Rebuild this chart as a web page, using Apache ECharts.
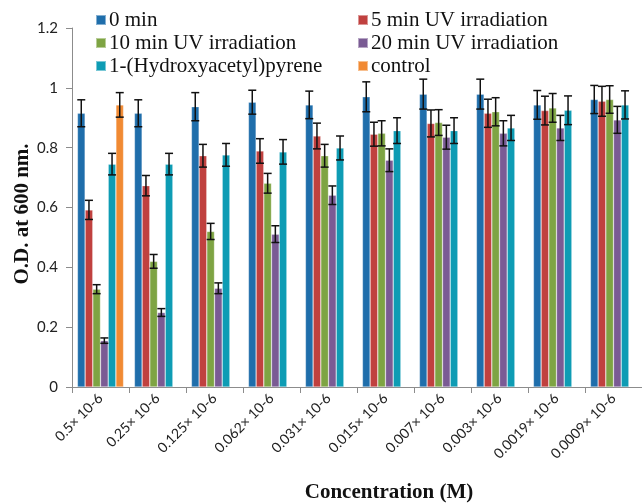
<!DOCTYPE html>
<html><head><meta charset="utf-8">
<script src="https://cdn.jsdelivr.net/npm/echarts@6/dist/echarts.min.js"></script>
<style>html,body{margin:0;padding:0;background:#fff}#c{width:642px;height:504px}</style>
</head><body><div id="c"></div>
<script>
var categories = ['0.5× 10-6','0.25× 10-6','0.125× 10-6','0.062× 10-6','0.031× 10-6','0.015× 10-6','0.007× 10-6','0.003× 10-6','0.0019× 10-6','0.0009× 10-6'];
var seriesNames = ['0 min','5 min UV irradiation','10 min UV irradiation','20 min UV irradiation','1-(Hydroxyacetyl)pyrene','control'];
var yTicks = [0,0.2,0.4,0.6,0.8,1,1.2];
var v0   = [0.915,0.915,0.937,0.952,0.943,0.970,0.979,0.979,0.943,0.961];
var v5   = [0.592,0.673,0.773,0.789,0.839,0.845,0.881,0.915,0.924,0.955];
var v10  = [0.327,0.420,0.520,0.681,0.773,0.848,0.884,0.920,0.933,0.961];
var v20  = [0.155,0.249,0.330,0.511,0.641,0.758,0.835,0.848,0.866,0.893];
var vHyd = [0.745,0.745,0.776,0.786,0.799,0.857,0.857,0.866,0.925,0.943];
var vCtl = [0.943,null,null,null,null,null,null,null,null,null];
var e0   = [0.045,0.045,0.047,0.040,0.046,0.050,0.050,0.050,0.048,0.047];
var e5   = [0.032,0.034,0.038,0.041,0.043,0.040,0.045,0.047,0.048,0.050];
var e10  = [0.015,0.023,0.027,0.033,0.038,0.042,0.043,0.047,0.048,0.046];
var e20  = [0.009,0.013,0.018,0.028,0.031,0.038,0.040,0.042,0.042,0.045];
var eHyd = [0.036,0.036,0.038,0.041,0.040,0.043,0.043,0.042,0.048,0.047];
var eCtl = [0.041,null,null,null,null,null,null,null,null,null];

var values = [v0,v5,v10,v20,vHyd,vCtl];
var errs = [e0,e5,e10,e20,eHyd,eCtl];
var colors = ['#1f6eab','#c0413f','#7ea443','#7a5b94','#0e9cb4','#f18a33'];
var catGap = 0.19;
var nS = 6;

var chart = echarts.init(document.getElementById('c'));
var series = [];
values.forEach(function(v,i){
  series.push({
    name: seriesNames[i], type:'bar', data:v, barGap:0, barCategoryGap:(catGap*100)+'%',
    itemStyle:{color:colors[i], borderColor:'rgba(255,255,255,0.45)', borderWidth:0.6},
    z:2
  });
});
values.forEach(function(v,i){
  var data = v.map(function(val,k){ return val==null?null:[k,val,errs[i][k]]; }).filter(function(d){return d;});
  series.push({
    type:'custom', silent:true, z:5,
    data:data,
    encode:{x:0,y:1},
    renderItem:function(params, api){
      var k = api.value(0), val = api.value(1), er = api.value(2);
      var bandW = api.size([1,0])[0];
      var bw = bandW*(1-catGap)/nS;
      var cx = api.coord([k,0])[0] + (i-(nS-1)/2)*bw;
      var top = api.coord([k,val+er])[1];
      var bot = api.coord([k,val-er])[1];
      var cap = 4;
      var st = {stroke:'#111', lineWidth:1.5};
      return {type:'group', children:[
        {type:'line', shape:{x1:cx,y1:top,x2:cx,y2:bot}, style:st},
        {type:'line', shape:{x1:cx-cap,y1:top,x2:cx+cap,y2:top}, style:st},
        {type:'line', shape:{x1:cx-cap,y1:bot,x2:cx+cap,y2:bot}, style:st}
      ]};
    }
  });
});

var legFont = {fontFamily:'Liberation Serif', fontSize:21, color:'#111', lineHeight:22, padding:[0,0,0,-2]};
chart.setOption({
  animation:false,
  color:colors,
  grid:{left:72, right:-15, top:28, bottom:117, containLabel:false},
  legend:[
    {data:[seriesNames[0],seriesNames[2],seriesNames[4]], orient:'vertical', left:95, top:9, padding:0, itemWidth:10, itemHeight:10, itemGap:1, icon:'rect', textStyle:legFont, selectedMode:false},
    {data:[seriesNames[1],seriesNames[3],seriesNames[5]], orient:'vertical', left:357, top:9, padding:0, itemWidth:10, itemHeight:10, itemGap:1, icon:'rect', textStyle:legFont, selectedMode:false}
  ],
  xAxis:{type:'category', data:categories,
    axisLine:{lineStyle:{color:'#8c8c8c', width:1}},
    axisTick:{show:true, length:6, inside:false, alignWithLabel:false, lineStyle:{color:'#8c8c8c'}},
    axisLabel:{interval:0, rotate:45, margin:9, fontFamily:'Lato', fontSize:14, color:'#222'}
  },
  yAxis:{type:'value', min:0, max:1.2, interval:0.2,
    splitLine:{show:false},
    axisLine:{show:true, lineStyle:{color:'#8c8c8c'}},
    axisTick:{show:true, length:6, lineStyle:{color:'#8c8c8c'}},
    axisLabel:{margin:14, fontFamily:'Lato', fontSize:15, color:'#222',
      formatter:function(v){ var t = yTicks.filter(function(x){return Math.abs(x-v)<1e-9;}); return t.length? String(t[0]) : ''; }}
  },
  graphic:[
    {type:'text', style:{text:'Concentration (M)', x:389, y:493, textAlign:'center', textVerticalAlign:'middle', font:'bold 21px "Liberation Serif"', fill:'#111'}},
    {type:'text', style:{text:'O.D. at 600 nm.', x:0, y:0, textAlign:'center', textVerticalAlign:'middle', font:'bold 21px "Liberation Serif"', fill:'#111'}, x:23, y:214, rotation:Math.PI/2}
  ],
  series:series
});
</script></body></html>
